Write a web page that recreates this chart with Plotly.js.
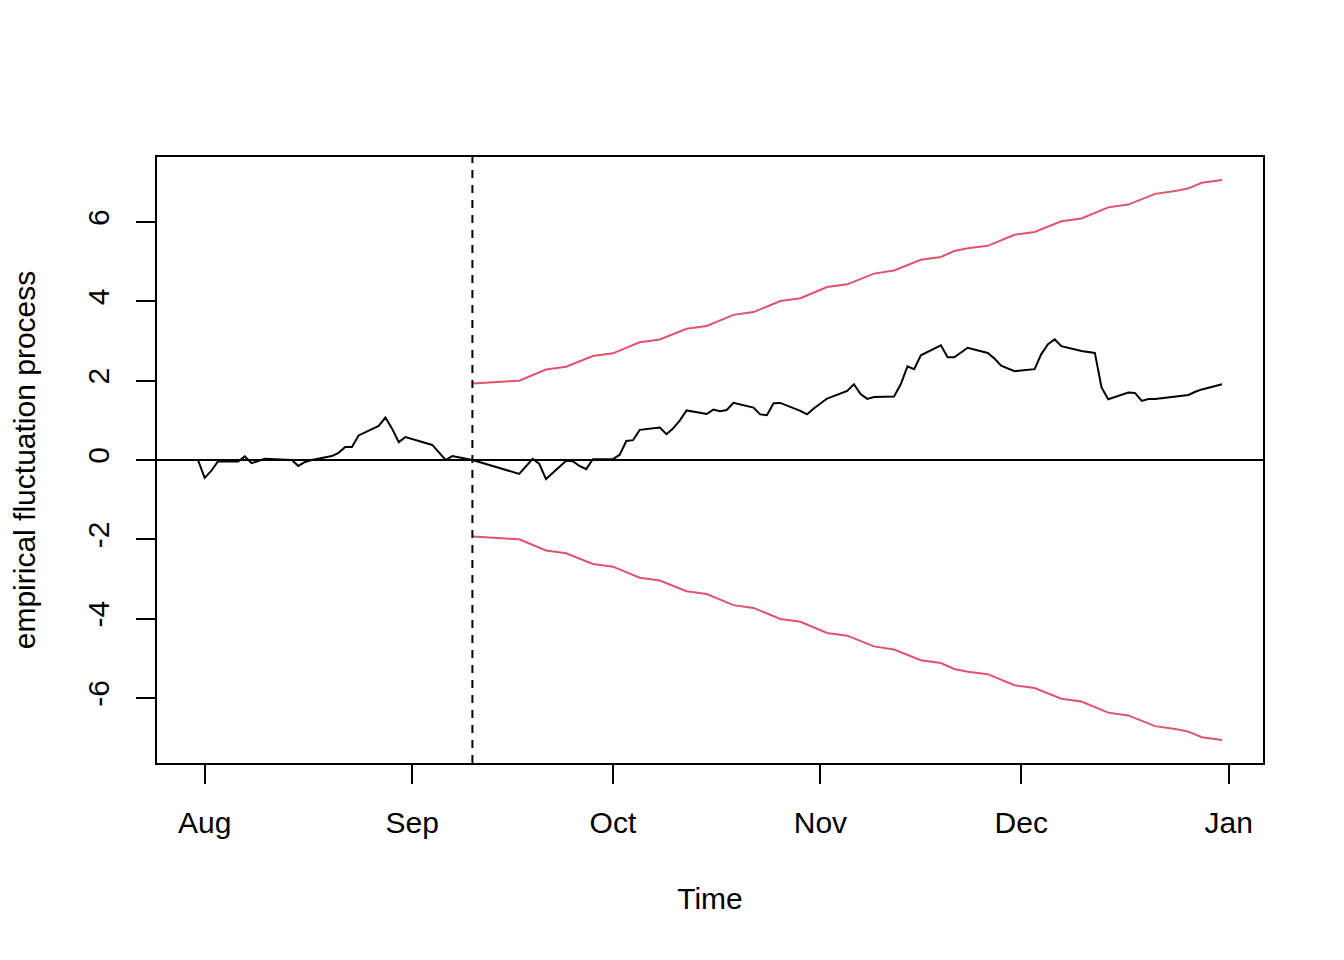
<!DOCTYPE html>
<html>
<head>
<meta charset="utf-8">
<script src="https://cdn.plot.ly/plotly-3.0.1.min.js"></script>
<style>
  body { margin: 0; background: #fff; }
  #myDiv { width: 1344px; height: 960px; }
</style>
</head>
<body>
<div id="myDiv"></div>
<script>
// empirical fluctuation process (observation dates and values)
var procDates = [
  '2018-07-31', '2018-08-01', '2018-08-02', '2018-08-03', '2018-08-06', '2018-08-07',
  '2018-08-08', '2018-08-10', '2018-08-14', '2018-08-15', '2018-08-16', '2018-08-17',
  '2018-08-20', '2018-08-21', '2018-08-22', '2018-08-23', '2018-08-24', '2018-08-27',
  '2018-08-28', '2018-08-29', '2018-08-30', '2018-08-31', '2018-09-04', '2018-09-06',
  '2018-09-07', '2018-09-10', '2018-09-17', '2018-09-19', '2018-09-20', '2018-09-21',
  '2018-09-24', '2018-09-25', '2018-09-26', '2018-09-27', '2018-09-28', '2018-10-01',
  '2018-10-02', '2018-10-03', '2018-10-04', '2018-10-05', '2018-10-08', '2018-10-09',
  '2018-10-10', '2018-10-11', '2018-10-12', '2018-10-15', '2018-10-16', '2018-10-17',
  '2018-10-18', '2018-10-19', '2018-10-22', '2018-10-23', '2018-10-24', '2018-10-25',
  '2018-10-26', '2018-10-29', '2018-10-30', '2018-10-31', '2018-11-02', '2018-11-05',
  '2018-11-06', '2018-11-07', '2018-11-08', '2018-11-09', '2018-11-12', '2018-11-13',
  '2018-11-14', '2018-11-15', '2018-11-16', '2018-11-19', '2018-11-20', '2018-11-21',
  '2018-11-23', '2018-11-26', '2018-11-27', '2018-11-28', '2018-11-30', '2018-12-03',
  '2018-12-04', '2018-12-05', '2018-12-06', '2018-12-07', '2018-12-10', '2018-12-12',
  '2018-12-13', '2018-12-14', '2018-12-17', '2018-12-18', '2018-12-19', '2018-12-20',
  '2018-12-21', '2018-12-24', '2018-12-26', '2018-12-27', '2018-12-28', '2018-12-31'
];
var procValues = [
  0.00, -0.45, -0.27, -0.03, -0.04, 0.09,
  -0.08, 0.03, 0.00, -0.15, -0.05, 0.00,
  0.10, 0.18, 0.33, 0.33, 0.62, 0.86,
  1.07, 0.79, 0.45, 0.58, 0.38, 0.00,
  0.10, 0.00, -0.35, 0.03, -0.10, -0.48,
  -0.02, -0.03, -0.15, -0.23, 0.02, 0.02,
  0.13, 0.48, 0.50, 0.76, 0.82, 0.65,
  0.80, 1.00, 1.25, 1.16, 1.27, 1.23,
  1.26, 1.44, 1.32, 1.15, 1.13, 1.43,
  1.44, 1.24, 1.15, 1.30, 1.55, 1.74,
  1.91, 1.66, 1.54, 1.59, 1.60, 1.91,
  2.36, 2.29, 2.64, 2.89, 2.59, 2.59,
  2.83, 2.70, 2.56, 2.38, 2.24, 2.29,
  2.67, 2.92, 3.04, 2.87, 2.75, 2.70,
  1.83, 1.53, 1.70, 1.69, 1.49, 1.54,
  1.54, 1.60, 1.64, 1.72, 1.78, 1.91
];

// monitoring boundary (upper), kinks only
var boundDates = [
  '2018-09-10', '2018-09-17', '2018-09-21', '2018-09-24', '2018-09-28', '2018-10-01',
  '2018-10-05', '2018-10-08', '2018-10-12', '2018-10-15', '2018-10-19', '2018-10-22',
  '2018-10-26', '2018-10-29', '2018-11-02', '2018-11-05', '2018-11-09', '2018-11-12',
  '2018-11-16', '2018-11-19', '2018-11-21', '2018-11-23', '2018-11-26', '2018-11-30',
  '2018-12-03', '2018-12-07', '2018-12-10', '2018-12-14', '2018-12-17', '2018-12-21',
  '2018-12-24', '2018-12-26', '2018-12-28', '2018-12-31'
];
var boundUpper = [
  1.93, 2.00, 2.28, 2.35, 2.62, 2.69,
  2.97, 3.04, 3.31, 3.38, 3.66, 3.73,
  4.01, 4.08, 4.36, 4.43, 4.70, 4.78,
  5.05, 5.12, 5.27, 5.34, 5.40, 5.68,
  5.75, 6.02, 6.09, 6.37, 6.44, 6.71,
  6.78, 6.85, 6.99, 7.06
];
var boundLower = boundUpper.map(function (v) { return -v; });

var monitorStart = '2018-09-10';

var xTickVals = ['2018-08-01', '2018-09-01', '2018-10-01', '2018-11-01', '2018-12-01', '2019-01-01'];
var xTickText = ['Aug', 'Sep', 'Oct', 'Nov', 'Dec', 'Jan'];
var yTickVals = [-6, -4, -2, 0, 2, 4, 6];
var yTickText = ['-6', '-4', '-2', '0', '2', '4', '6'];

var red = '#DF536B';
var fnt = 'Liberation Sans, Arial, Helvetica, sans-serif';

var data = [
  { x: procDates, y: procValues, type: 'scatter', mode: 'lines',
    line: { color: 'black', width: 2 } },
  { x: boundDates, y: boundUpper, type: 'scatter', mode: 'lines',
    line: { color: red, width: 2 } },
  { x: boundDates, y: boundLower, type: 'scatter', mode: 'lines',
    line: { color: red, width: 2 } }
];

var layout = {
  width: 1344,
  height: 960,
  showlegend: false,
  paper_bgcolor: 'white',
  plot_bgcolor: 'white',
  margin: { l: 157, r: 81, t: 157, b: 197 },
  font: { family: fnt, size: 30, color: 'black' },
  xaxis: {
    type: 'date',
    range: ['2018-07-24 21:00', '2019-01-06 03:00'],
    tickvals: xTickVals,
    ticktext: xTickText,
    ticks: 'outside',
    ticklen: 19,
    tickwidth: 2,
    tickcolor: 'black',
    ticklabelstandoff: 13,
    showline: true,
    linecolor: 'black',
    linewidth: 2,
    mirror: true,
    showgrid: false,
    zeroline: false,
    tickfont: { family: fnt, size: 30 },
    title: { text: 'Time', font: { family: fnt, size: 30 }, standoff: 50 }
  },
  yaxis: {
    range: [-7.64, 7.64],
    tickvals: yTickVals,
    ticktext: yTickText,
    ticks: 'outside',
    ticklen: 19,
    tickwidth: 2,
    tickcolor: 'black',
    tickangle: -90,
    ticklabelstandoff: 15,
    showline: true,
    linecolor: 'black',
    linewidth: 2,
    mirror: true,
    showgrid: false,
    zeroline: true,
    zerolinecolor: 'black',
    zerolinewidth: 2,
    tickfont: { family: fnt, size: 30 },
    title: { text: 'empirical fluctuation process', font: { family: fnt, size: 30 }, standoff: 38 }
  },
  shapes: [
    { type: 'line', xref: 'x', yref: 'paper', x0: monitorStart, x1: monitorStart, y0: 0, y1: 1,
      line: { color: 'black', width: 2, dash: '8px,7px' } }
  ]
};

Plotly.newPlot('myDiv', data, layout, { displayModeBar: false, staticPlot: true });
</script>
</body>
</html>
